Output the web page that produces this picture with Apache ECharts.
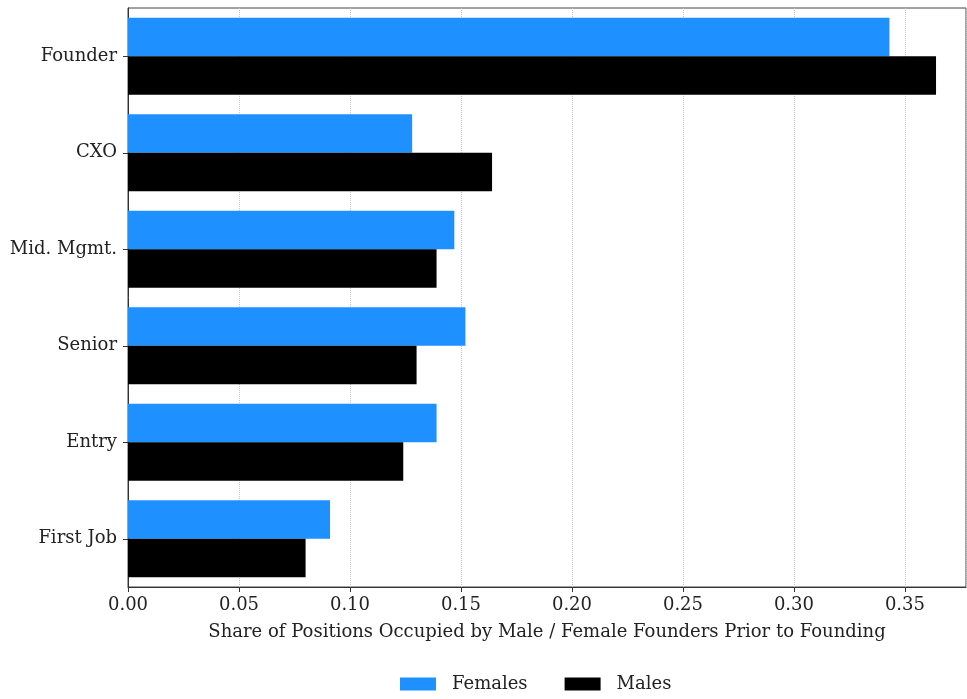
<!DOCTYPE html>
<html>
<head>
<meta charset="utf-8">
<script src="https://cdn.jsdelivr.net/npm/echarts@6/dist/echarts.min.js"></script>
<style>
  html, body { margin: 0; padding: 0; background: #fff; }
  #chart { width: 967px; height: 699px; }
</style>
</head>
<body>
<div id="chart"></div>
<script>
const categories = ['Founder', 'CXO', 'Mid. Mgmt.', 'Senior', 'Entry', 'First Job']
const females = [0.343, 0.128, 0.147, 0.152, 0.139, 0.091]
const males = [0.364, 0.164, 0.139, 0.130, 0.124, 0.080]
const xTicks = [0, 0.05, 0.1, 0.15, 0.2, 0.25, 0.3, 0.35]

const font = 'DejaVu Serif'
const chart = echarts.init(document.getElementById('chart'))

chart.setOption({
  backgroundColor: '#fff',
  animation: false,
  textStyle: { fontFamily: font },
  grid: {
    left: 128,
    right: 1,
    top: 8,
    bottom: 112,
    show: true,
    borderColor: '#444',
    borderWidth: 1,
  },
  legend: {
    bottom: 1,
    left: 395,
    itemWidth: 36,
    itemHeight: 13,
    itemGap: 37,
    icon: 'rect',
    textStyle: { fontFamily: font, fontSize: 18, color: '#222', padding: [0, 0, 0, 11] },
    data: ['Females', 'Males'],
  },
  xAxis: {
    type: 'value',
    min: 0,
    max: 0.3775,
    interval: 0.05,
    name: 'Share of Positions Occupied by Male / Female Founders Prior to Founding',
    nameLocation: 'middle',
    nameGap: 36,
    nameTextStyle: { fontFamily: font, fontSize: 18, color: '#222' },
    axisLine: { show: true, lineStyle: { color: '#333' } },
    axisTick: { show: true, length: 5, lineStyle: { color: '#333' } },
    axisLabel: {
      fontFamily: font,
      fontSize: 18,
      color: '#222',
      margin: 9,
      showMaxLabel: false,
      formatter: v => (xTicks.some(t => Math.abs(t - v) < 1e-9) ? v.toFixed(2) : ''),
    },
    splitLine: { show: true, lineStyle: { color: '#c8c8c8', type: 'dotted', width: 1 } },
  },
  yAxis: {
    type: 'category',
    inverse: true,
    data: categories,
    axisLine: { show: true, lineStyle: { color: '#333' } },
    axisTick: { show: true, alignWithLabel: true, length: 5, lineStyle: { color: '#333' } },
    axisLabel: { fontFamily: font, fontSize: 18, color: '#222', margin: 11 },
    splitLine: { show: false },
  },
  series: [
    {
      name: 'Females',
      type: 'bar',
      data: females,
      barGap: '0%',
      barCategoryGap: '20%',
      itemStyle: { color: '#1e90ff' },
    },
    {
      name: 'Males',
      type: 'bar',
      data: males,
      barGap: '0%',
      barCategoryGap: '20%',
      itemStyle: { color: '#000000' },
    },
  ],
})
</script>
</body>
</html>
